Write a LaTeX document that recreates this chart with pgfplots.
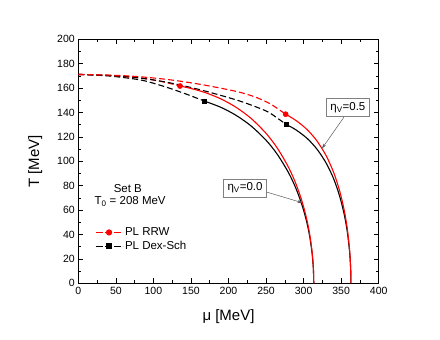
\documentclass[border=0pt]{standalone}
\usepackage{fontspec}
\setmainfont{Liberation Sans}
\usepackage{pgfplots}
\pgfplotsset{compat=1.18}
\usetikzlibrary{arrows.meta}

\begin{document}
\begin{tikzpicture}
\useasboundingbox (-78.3pt,-56.7pt) rectangle (361.7pt,283.3pt);
\begin{axis}[
  at={(0pt,0pt)}, anchor=south west,
  scale only axis, width=300.4pt, height=244pt,
  xmin=0, xmax=400, ymin=0, ymax=200,
  xtick={0,50,...,400}, ytick={0,20,...,200},
  minor x tick num=1, minor y tick num=1,
  tick align=inside, tick pos=both,
  major tick length=5pt, minor tick length=3pt,
  axis line style={line width=0.9pt},
  every tick/.style={black, line width=0.6pt},
  /pgf/number format/assume math mode=true,
  tick label style={font=\fontsize{10.5}{12}\selectfont},
  xlabel={μ [MeV]}, ylabel={T [MeV]},
  label style={font=\fontsize{15}{18}\selectfont},
  xlabel style={at={(axis description cs:0.5,-0.135)}, anchor=center},
  ylabel style={at={(axis description cs:-0.143,0.5)}, anchor=center},
  legend style={at={(axis description cs:0.045,0.245)}, anchor=north west,
    draw=none, fill=none, font=\fontsize{11.5}{13}\selectfont, row sep=0pt},
  legend cell align=left,
  legend image code/.code={\draw[mark repeat=2,mark phase=2]
    plot coordinates {(0pt,0pt)(13.5pt,0pt)(27pt,0pt)};},
  crv/.style={forget plot, line width=1.1pt, smooth},
  dsh/.style={crv, dash pattern=on 6pt off 3pt},
]
% legend entries
\addlegendimage{red, line width=1pt, dash pattern=on 7pt off 2pt, mark=*, mark size=2.6pt, mark options={solid}}
\addlegendentry{PL RRW}
\addlegendimage{black, line width=1pt, dash pattern=on 7pt off 2pt, mark=square*, mark size=2.3pt, mark options={solid}}
\addlegendentry{PL Dex-Sch}

% dashed parts (crossover)
\addplot[dsh, black] coordinates {
  (0,171.2) (40,170) (80,167) (100,164) (122,159.8) (145,154.8) (167.8,149.4)};
\addplot[dsh, red] coordinates {
  (0,171.2) (40,170.3) (80,168.4) (110,165.5) (135.4,161.7)};
\addplot[dsh, black] coordinates {
  (0,171.2) (40,170.4) (80,168.5) (122,164.3) (165,158.2) (210.9,150.2)
  (240,143.8) (255.3,139.5) (276.6,130.3)};
\addplot[dsh, red] coordinates {
  (0,171.2) (40,170.7) (80,169.4) (122,166.8) (165,162.8) (210.9,157.2)
  (235,152.8) (255.3,147.2) (276.1,138.6)};

% solid parts (first order), eta_V = 0.0
\addplot[crv, black] coordinates {
  (167.8,149.4) (190,144.2) (210,137.7) (230,129.0) (250,117.3) (265,105.7)
  (280,90.6) (290,77.5) (298,63.9) (304,50.7) (308,38.8) (311,26.3)
  (312.6,15.9) (313.2,9.2) (313.5,0)};
\addplot[crv, red] coordinates {
  (135.4,161.7) (150,159.7) (170,156.1) (190,151.1) (210,144.3) (230,135.2)
  (250,122.9) (265,110.8) (280,95.0) (290,81.2) (298,67.0) (304,53.1)
  (308,40.7) (311,27.6) (312.6,16.7) (313.2,9.6) (313.5,0)};
% eta_V = 0.5
\addplot[crv, black] coordinates {
  (276.6,130.3) (290,125.7) (305,118.6) (318,109.8) (330,98.6) (340,85.7)
  (348,71.4) (354,56.7) (358,43.0) (361,27.5) (362.3,16.4) (362.8,8.8) (363,0)};
\addplot[crv, red] coordinates {
  (276.1,138.6) (290,133.4) (305,125.8) (318,116.5) (330,104.6) (340,90.9)
  (348,75.8) (354,60.2) (358,45.6) (361,29.2) (362.3,17.4) (362.8,9.3) (363,0)};

% end points of the crossover lines
\addplot[forget plot, only marks, red, mark=*, mark size=2.6pt] coordinates {(135.4,161.7) (276.1,138.6)};
\addplot[forget plot, only marks, black, mark=square*, mark size=2.3pt] coordinates {(167.8,149.4) (276.6,130.3)};

% annotations
\node[font=\fontsize{11.5}{13}\selectfont] at (axis cs:66,78) {Set B};
\node[font=\fontsize{11.5}{13}\selectfont] at (axis cs:69,67) {T\textsubscript{0} = 208 MeV};
\node[draw=gray, line width=0.8pt, fill=white, inner sep=4pt, font=\fontsize{11.5}{13}\selectfont]
  (b5) at (axis cs:359,144) {η\textsubscript{V}=0.5};
\node[draw=gray, line width=0.8pt, fill=white, inner sep=4pt, font=\fontsize{11.5}{13}\selectfont]
  (b0) at (axis cs:222,78) {η\textsubscript{V}=0.0};
\draw[gray!70!black, line width=0.5pt, -{Stealth[length=5pt,width=3pt]}] (b5.south) ++(-4pt,0) -- (axis cs:324.5,110.5);
\draw[gray!70!black, line width=0.5pt, -{Stealth[length=5pt,width=3pt]}] (b0.east) ++(0,-4pt) -- (axis cs:298.5,66);
\end{axis}
\end{tikzpicture}
\end{document}
